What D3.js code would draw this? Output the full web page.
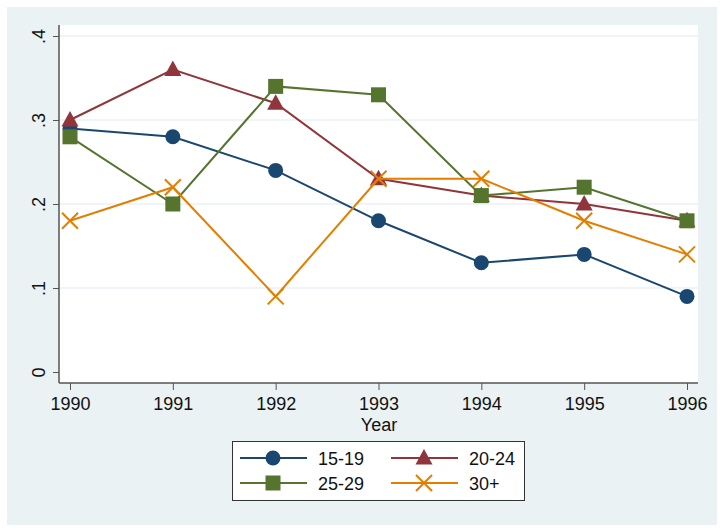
<!DOCTYPE html>
<html><head><meta charset="utf-8">
<script src="https://cdn.jsdelivr.net/npm/d3@7"></script>
<style>body{margin:0;background:#fff}svg{display:block}text{font-family:"Liberation Sans",Arial,sans-serif}</style>
</head><body><svg id="c" width="724" height="532"></svg>
<script>
const years = [1990, 1991, 1992, 1993, 1994, 1995, 1996];
const seriesNames = ["15-19", "20-24", "25-29", "30+"];
const s1519 = [0.29, 0.28, 0.24, 0.18, 0.13, 0.14, 0.09];
const s2024 = [0.30, 0.36, 0.32, 0.23, 0.21, 0.20, 0.18];
const s2529 = [0.28, 0.20, 0.34, 0.33, 0.21, 0.22, 0.18];
const s30p  = [0.18, 0.22, 0.09, 0.23, 0.23, 0.18, 0.14];
const yTicks = [0, 0.1, 0.2, 0.3, 0.4];
const yTickLabels = ["0", ".1", ".2", ".3", ".4"];
const colors = ["#1a476f", "#90353b", "#55752f", "#e37e00"];
const symbols = ["circle", "triangle", "square", "x"];
const allSeries = [s1519, s2024, s2529, s30p];

const svg = d3.select("#c");
svg.append("rect").attr("x",7).attr("y",7).attr("width",710).attr("height",518).attr("fill","#eaf2f3");
const L=59, R=698, T=25, B=383;
svg.append("rect").attr("x",L).attr("y",T).attr("width",R-L).attr("height",B-T).attr("fill","#fff");

const x = d3.scaleLinear().domain([1990,1996]).range([70,687]);
const y = d3.scaleLinear().domain([0,0.4]).range([372,36]);

// gridlines
svg.append("g").selectAll("line").data(yTicks.filter(d=>d>0)).join("line")
  .attr("x1",L).attr("x2",R).attr("y1",d=>y(d)).attr("y2",d=>y(d))
  .attr("stroke","#eaf2f3").attr("stroke-width",1.5);

// y axis
const ya = svg.append("g").attr("transform",`translate(${L},0)`)
  .call(d3.axisLeft(y).tickValues(yTicks).tickSize(6).tickFormat((d,i)=>yTickLabels[i]));
ya.select(".domain").attr("d",`M0,${T}V${B}`).attr("stroke","#555").attr("stroke-width",1.5);
ya.selectAll(".tick line").attr("stroke","#555");
ya.selectAll(".tick text").attr("font-size",18).attr("fill","#111")
  .attr("transform","rotate(-90)").attr("x",0).attr("y",-14).attr("dy",0).attr("text-anchor","middle");

// x axis
const xa = svg.append("g").attr("transform",`translate(0,${B})`)
  .call(d3.axisBottom(x).tickValues(years).tickSize(7).tickFormat(d3.format("d")));
xa.select(".domain").attr("d",`M${L},0H${R}`).attr("stroke","#555").attr("stroke-width",1.5);
xa.selectAll(".tick line").attr("stroke","#555");
xa.selectAll(".tick text").attr("font-size",18).attr("fill","#111").attr("y",27).attr("dy",0);
svg.append("text").attr("x",379).attr("y",431).attr("text-anchor","middle").attr("font-size",18).attr("fill","#111").text("Year");

function marker(g, sym, cx, cy, col){
  if(sym==="circle") g.append("circle").attr("cx",cx).attr("cy",cy).attr("r",7.5).attr("fill",col);
  else if(sym==="triangle") g.append("path").attr("d",`M${cx},${cy-9}L${cx+8.5},${cy+6.5}L${cx-8.5},${cy+6.5}Z`).attr("fill",col);
  else if(sym==="square") g.append("rect").attr("x",cx-7.5).attr("y",cy-7.5).attr("width",15).attr("height",15).attr("fill",col);
  else g.append("path").attr("d",`M${cx-8},${cy-8}L${cx+8},${cy+8}M${cx+8},${cy-8}L${cx-8},${cy+8}`).attr("stroke",col).attr("stroke-width",2);
}

const line = d3.line().x((d,i)=>x(years[i])).y(d=>y(d));
allSeries.forEach((s,k)=>{
  const g = svg.append("g");
  g.append("path").datum(s).attr("d",line).attr("fill","none").attr("stroke",colors[k]).attr("stroke-width",2);
  s.forEach((v,i)=>marker(g,symbols[k],x(years[i]),y(v),colors[k]));
});

// legend
const lg = svg.append("g");
lg.append("rect").attr("x",232.5).attr("y",441.5).attr("width",292).attr("height",59).attr("fill","#fff").attr("stroke","#333").attr("stroke-width",1);
seriesNames.forEach((n,k)=>{
  const col = k%2, row = Math.floor(k/2);
  const x0 = col===0 ? 240 : 391, cy = row===0 ? 458 : 483;
  lg.append("line").attr("x1",x0).attr("x2",x0+67).attr("y1",cy).attr("y2",cy).attr("stroke",colors[k]).attr("stroke-width",2);
  marker(lg,symbols[k],x0+33,cy,colors[k]);
  lg.append("text").attr("x",x0+78).attr("y",cy+6.5).attr("font-size",18).attr("fill","#111").text(n);
});
</script></body></html>
